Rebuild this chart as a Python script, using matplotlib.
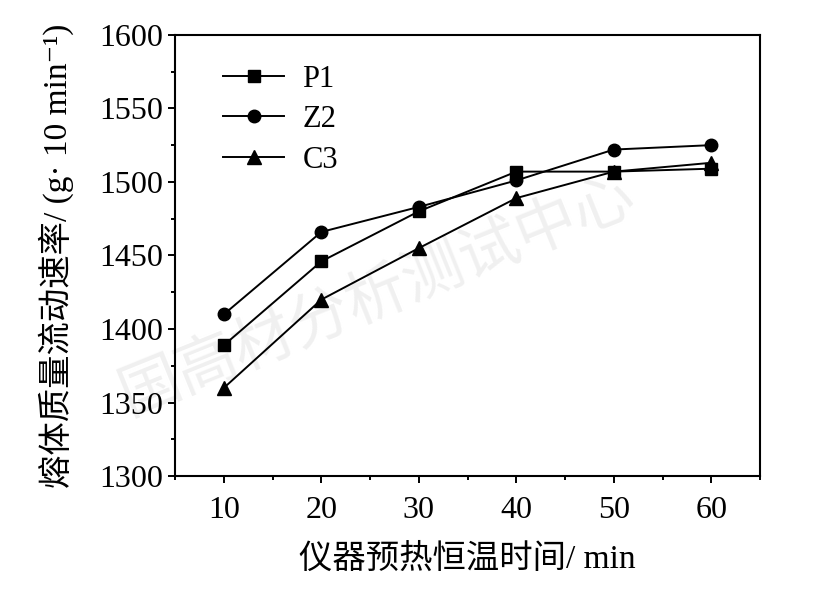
import matplotlib
matplotlib.use("Agg")
import matplotlib.pyplot as plt
from matplotlib.ticker import MultipleLocator

plt.rcParams['font.family'] = ['Liberation Serif', 'Noto Sans CJK SC', 'DejaVu Sans']

times = [10, 20, 30, 40, 50, 60]
p1 = [1389, 1446, 1480, 1507, 1507, 1509]
z2 = [1410, 1466, 1483, 1501, 1522, 1525]
c3 = [1360, 1420, 1455, 1489, 1507, 1513]
series_names = ["P1", "Z2", "C3"]
x_ticks = [10, 20, 30, 40, 50, 60]
y_ticks = [1300, 1350, 1400, 1450, 1500, 1550, 1600]

fig = plt.figure(figsize=(8.38, 5.9), dpi=100)
ax = fig.add_axes([0.209, 0.193, 0.698, 0.748])

ax.plot(times, p1, color="black", lw=1.4, marker="s", ms=8.5, label=series_names[0], zorder=3)
ax.plot(times, z2, color="black", lw=1.4, marker="o", ms=9, label=series_names[1], zorder=3)
ax.plot(times, c3, color="black", lw=1.4, marker="^", ms=10, label=series_names[2], zorder=3)

ax.set_xlim(5, 65)
ax.set_ylim(1300, 1600)
ax.set_xticks(x_ticks)
ax.set_yticks(y_ticks)
ax.xaxis.set_minor_locator(MultipleLocator(5))
ax.yaxis.set_minor_locator(MultipleLocator(25))
ax.tick_params(which="both", direction="out", top=False, right=False, width=1.4, labelsize=23)
ax.tick_params(which="major", length=5)
ax.tick_params(which="minor", length=3)
ax.tick_params(axis="x", pad=9)
for s in ax.spines.values():
    s.set_linewidth(1.5)

ax.set_xlabel("仪器预热恒温时间/ min", fontsize=24, labelpad=14)
ax.set_ylabel("熔体质量流动速率/ (g· 10 min⁻¹)", fontsize=24, labelpad=18)

# faint watermark, behind the lines
ax.text(0.45, 0.5, "国高材分析测试中心", fontsize=44, color="#f0f0f0",
        rotation=22, ha="center", va="center", family=['Noto Sans CJK SC'],
        transform=fig.transFigure, zorder=1, clip_on=False)

leg = ax.legend(loc="upper left", frameon=False, fontsize=22, handlelength=2.0,
                handletextpad=0.6, labelspacing=0.38, bbox_to_anchor=(0.035, 0.995))

fig.savefig("out.png", dpi=100)
